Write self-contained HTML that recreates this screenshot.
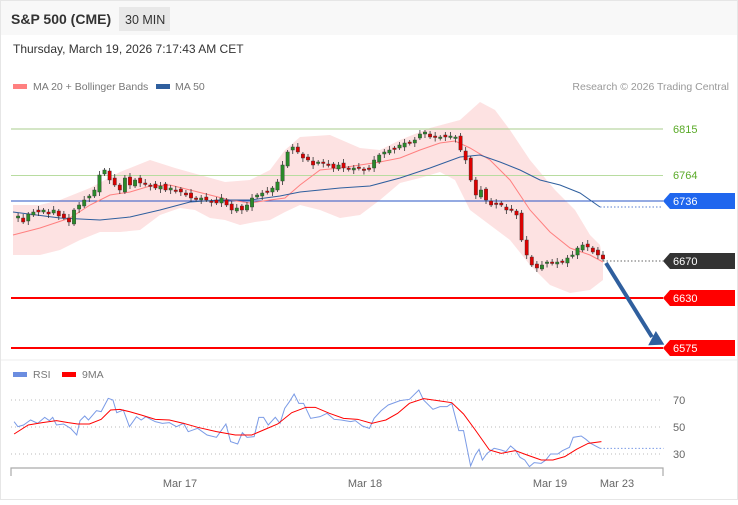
<!DOCTYPE html><html><head><meta charset="utf-8"><style>
body{margin:0;width:738px;height:500px;overflow:hidden;background:#fff;font-family:"Liberation Sans",sans-serif}
</style></head><body>
<svg width="738" height="500" xmlns="http://www.w3.org/2000/svg" font-family="Liberation Sans, sans-serif">
<rect x="0.5" y="0.5" width="737" height="499" fill="#fff" stroke="#e6e6e6"/>
<rect x="1" y="1" width="736" height="34" fill="#f8f8f8"/>
<text x="11" y="24" font-size="14" font-weight="bold" fill="#333">S&amp;P 500 (CME)</text>
<rect x="119" y="7" width="51" height="24" fill="#e8e8e8"/>
<text x="125" y="24" font-size="12.5" fill="#333">30 MIN</text>
<text x="13" y="53" font-size="12" fill="#333">Thursday, March 19, 2026 7:17:43 AM CET</text>
<rect x="13" y="84" width="14" height="5" fill="#ff8080"/>
<text x="33" y="90" font-size="10.5" fill="#777">MA 20 + Bollinger Bands</text>
<rect x="156" y="84" width="14" height="5" fill="#2f5f9e"/>
<text x="175" y="90" font-size="10.5" fill="#777">MA 50</text>
<text x="729" y="90" font-size="10.5" fill="#999" text-anchor="end">Research © 2026 Trading Central</text>
<polygon fill="#fde2e2" points="13,205 40,205 60,200 90,188 120,172 150,160 175,168 200,175 225,182 250,180 270,170 285,150 300,137 330,135 360,148 380,150 400,140 430,128 460,120 480,102 495,110 510,130 530,160 555,190 575,210 590,235 600,245 603,262 603,280 590,290 570,293 550,285 530,265 510,240 490,225 470,210 455,180 440,172 420,178 400,183 380,200 360,215 340,218 320,210 300,205 285,212 270,220 255,222 240,225 225,220 210,218 195,210 180,208 160,215 140,230 120,232 100,232 80,240 60,250 40,255 13,255"/>
<line x1="11" y1="129" x2="663" y2="129" stroke="#a8cc8c" stroke-width="1"/>
<line x1="11" y1="175.5" x2="663" y2="175.5" stroke="#b8dca0" stroke-width="1"/>
<line x1="11" y1="201" x2="663" y2="201" stroke="#2a56c6" stroke-width="1"/>
<line x1="11" y1="298" x2="663" y2="298" stroke="#f00" stroke-width="2"/>
<line x1="11" y1="348" x2="663" y2="348" stroke="#f00" stroke-width="2"/>
<polyline fill="none" stroke="#ff8080" stroke-width="1" points="13,235 40,228 70,218 90,205 110,195 130,192 150,186 170,185 190,190 210,195 230,200 250,203 270,200 285,198 300,185 320,170 340,168 360,165 380,162 400,158 420,150 440,143 455,141 470,148 490,160 510,180 530,210 550,232 570,248 590,255 603,262"/>
<polyline fill="none" stroke="#2f5f9e" stroke-width="1" points="13,212 60,218 100,220 130,217 160,210 190,202 220,200 250,200 280,196 300,192 340,188 370,186 400,178 430,168 460,157 480,155 500,162 520,170 540,180 560,185 580,193 600,207"/>
<line x1="600" y1="207" x2="663" y2="207" stroke="#5a7fd0" stroke-dasharray="1.5,2"/>
<line x1="603" y1="261" x2="663" y2="261" stroke="#666" stroke-dasharray="1.5,2"/>
<g id="c"></g>
<line x1="606" y1="263" x2="652" y2="337" stroke="#2f5f9e" stroke-width="4"/>
<polygon points="647,341 661,333 661,349" fill="#2f5f9e" transform="rotate(-32 655 341)"/>
<g font-size="11">
<text x="673" y="133" fill="#5aaa28">6815</text>
<text x="673" y="179" fill="#5aaa28">6764</text>
<polygon points="663,201 670,193 735,193 735,209 670,209" fill="#1f66ee"/><text x="673" y="205" fill="#fff">6736</text>
<polygon points="663,261 670,253 735,253 735,269 670,269" fill="#333"/><text x="673" y="265" fill="#fff">6670</text>
<polygon points="663,298 670,290 735,290 735,306 670,306" fill="#f00"/><text x="673" y="302" fill="#fff">6630</text>
<polygon points="663,348 670,340 735,340 735,356 670,356" fill="#f00"/><text x="673" y="352" fill="#fff">6575</text>
</g>
<line x1="1" y1="360" x2="737" y2="360" stroke="#eee"/>
<rect x="13" y="372" width="14" height="5" fill="#6b8de0"/>
<text x="33" y="378" font-size="10.5" fill="#777">RSI</text>
<rect x="62" y="372" width="14" height="5" fill="#f00"/>
<text x="82" y="378" font-size="10.5" fill="#777">9MA</text>
<g stroke="#bbb" stroke-dasharray="1,3"><line x1="11" y1="400" x2="663" y2="400"/><line x1="11" y1="427" x2="663" y2="427"/><line x1="11" y1="454" x2="663" y2="454"/></g>
<g font-size="11" fill="#666"><text x="673" y="404">70</text><text x="673" y="431">50</text><text x="673" y="458">30</text>
<text x="180" y="487" text-anchor="middle">Mar 17</text><text x="365" y="487" text-anchor="middle">Mar 18</text><text x="550" y="487" text-anchor="middle">Mar 19</text><text x="617" y="487" text-anchor="middle">Mar 23</text></g>
<path d="M11,476V468H663V476" fill="none" stroke="#aaa" stroke-width="1.2"/>
<g transform="translate(0,360) scale(0.4706,0.3333)" fill="none">
<polyline vector-effect="non-scaling-stroke" stroke="#7b9be6" stroke-width="1" points="30,185 38,200 50,195 65,180 80,190 95,172 105,182 112,172 120,195 135,192 150,205 163,225 170,182 180,168 188,180 205,152 215,155 230,115 240,120 248,158 262,150 275,200 290,170 300,180 310,170 320,178 330,185 345,190 360,188 375,200 390,190 400,215 420,205 440,225 460,232 480,192 490,245 505,252 515,218 525,232 540,230 550,172 560,172 570,195 585,172 595,190 605,145 615,125 625,102 635,130 645,130 660,175 680,170 695,160 710,178 725,180 745,185 755,182 770,198 785,205 795,175 810,152 825,135 850,122 870,118 890,90 900,120 920,148 935,140 950,140 960,130 975,212 985,212 1000,318 1010,285 1018,268 1025,300 1035,280 1050,265 1065,270 1075,275 1085,258 1095,270 1105,292 1115,300 1125,320 1135,308 1150,310 1160,300 1170,282 1185,282 1195,272 1210,262 1218,232 1235,228 1245,238 1255,250 1275,265"/>
<line vector-effect="non-scaling-stroke" x1="1275" y1="265" x2="1410" y2="265" stroke="#7b9be6" stroke-dasharray="1.5,2"/>
<polyline vector-effect="non-scaling-stroke" stroke="#f00" stroke-width="1" points="30,222 60,195 90,188 120,182 145,188 165,192 190,192 215,178 235,150 255,148 275,155 300,165 330,178 360,180 390,190 420,202 460,215 500,225 535,225 560,210 590,192 620,158 650,142 670,142 700,160 730,175 760,178 790,190 820,180 845,160 870,130 900,116 930,122 960,128 985,162 1010,210 1040,270 1065,280 1095,272 1120,285 1150,300 1175,300 1200,290 1225,268 1250,250 1278,245"/>
</g>
</svg>
<script>
var ys=[218,216,222,214,212,212,210,214,210,216,218,222,210,205,200,196,190,175,170,180,185,190,178,185,180,183,183,185,188,186,190,188,190,192,195,198,198,198,200,202,203,198,205,210,208,210,205,198,195,193,192,188,182,165,152,147,152,158,160,165,162,162,165,168,165,168,168,168,168,170,168,160,155,152,150,148,145,143,142,140,134,132,137,137,137,137,136,137,150,160,180,195,190,200,205,203,205,210,210,215,240,255,265,268,265,262,262,262,262,258,255,248,245,247,252,255,259];
var g=document.getElementById('c'),s='',n=ys.length;
for(var i=1;i<n;i++){var x=13+(603-13)*i/(n-1),o=ys[i-1]+((i*7)%5-2),c=ys[i];var up=c<o;var col=up?'#2a8a2a':'#d00';var t=Math.min(o,c),b=Math.max(o,c);if(b-t<1.5)b=t+1.5;
s+='<line x1="'+x+'" y1="'+(t-2-(i%3))+'" x2="'+x+'" y2="'+(b+2+(i%2)*2)+'" stroke="#333" stroke-width="0.8"/><rect x="'+(x-1.7)+'" y="'+t+'" width="3.4" height="'+(b-t)+'" fill="'+col+'" stroke="#333" stroke-width="0.4"/>';}
g.innerHTML=s;
</script>
</body></html>
